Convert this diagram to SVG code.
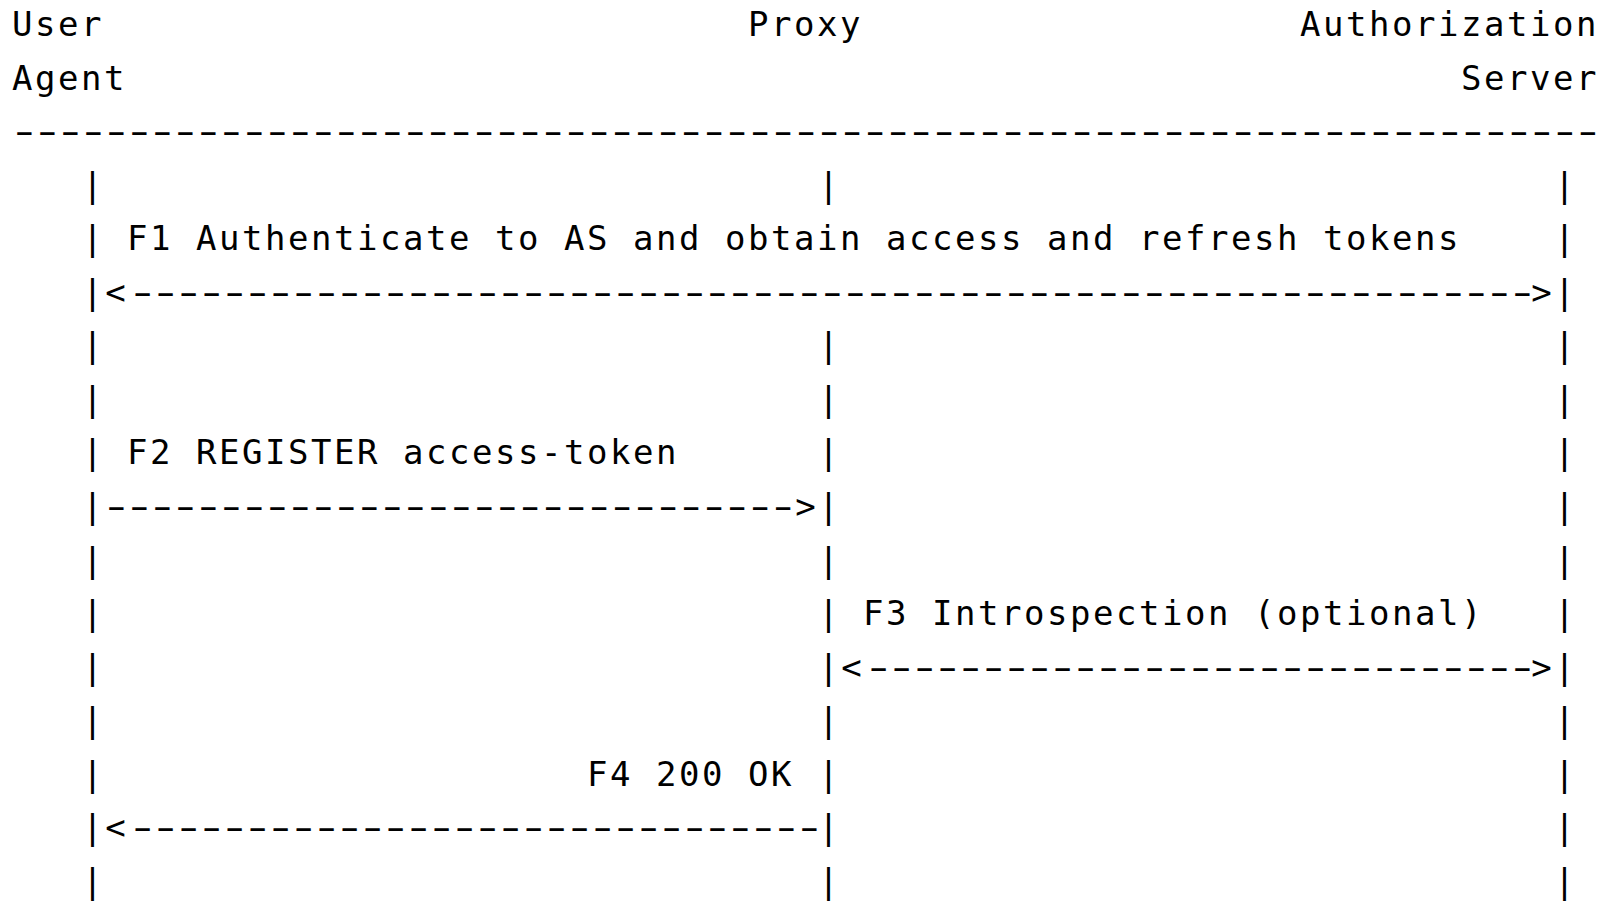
<svg xmlns="http://www.w3.org/2000/svg" width="1615" height="904" viewBox="0 0 1615 904">
<style>
text{font-family:"DejaVu Sans Mono","Liberation Mono",monospace;font-size:34px;letter-spacing:2.53px;fill:#000;white-space:pre}
text.d{letter-spacing:-6.53px}
text.p{letter-spacing:0;text-anchor:middle}
</style>
<rect width="1615" height="904" fill="#fff"/>
<g id="user-agent">
<text x="12" y="36">User</text>
<text x="12" y="90">Agent</text>
</g>
<g id="proxy">
<text x="748" y="36">Proxy</text>
</g>
<g id="authorization-server">
<text x="1300" y="36">Authorization</text>
<text x="1461" y="90">Server</text>
</g>
<g id="separator">
<text class="d" transform="translate(7.5,143) scale(1.65,1)">---------------------------------------------------------------------</text>
</g>
<g id="lifelines">
<g id="lifeline-user-agent">
<text class="p" x="92.5" y="197">|</text><text class="p" x="92.5" y="250">|</text><text class="p" x="92.5" y="304">|</text><text class="p" x="92.5" y="357">|</text><text class="p" x="92.5" y="411">|</text><text class="p" x="92.5" y="464">|</text><text class="p" x="92.5" y="518">|</text><text class="p" x="92.5" y="572">|</text><text class="p" x="92.5" y="625">|</text><text class="p" x="92.5" y="679">|</text><text class="p" x="92.5" y="732">|</text><text class="p" x="92.5" y="786">|</text><text class="p" x="92.5" y="839">|</text><text class="p" x="92.5" y="893">|</text>
</g>
<g id="lifeline-proxy">
<text class="p" x="828.5" y="197">|</text><text class="p" x="828.5" y="357">|</text><text class="p" x="828.5" y="411">|</text><text class="p" x="828.5" y="464">|</text><text class="p" x="828.5" y="518">|</text><text class="p" x="828.5" y="572">|</text><text class="p" x="828.5" y="625">|</text><text class="p" x="828.5" y="679">|</text><text class="p" x="828.5" y="732">|</text><text class="p" x="828.5" y="786">|</text><text class="p" x="828.5" y="839">|</text><text class="p" x="828.5" y="893">|</text>
</g>
<g id="lifeline-authorization-server">
<text class="p" x="1564.5" y="197">|</text><text class="p" x="1564.5" y="250">|</text><text class="p" x="1564.5" y="304">|</text><text class="p" x="1564.5" y="357">|</text><text class="p" x="1564.5" y="411">|</text><text class="p" x="1564.5" y="464">|</text><text class="p" x="1564.5" y="518">|</text><text class="p" x="1564.5" y="572">|</text><text class="p" x="1564.5" y="625">|</text><text class="p" x="1564.5" y="679">|</text><text class="p" x="1564.5" y="732">|</text><text class="p" x="1564.5" y="786">|</text><text class="p" x="1564.5" y="839">|</text><text class="p" x="1564.5" y="893">|</text>
</g>
</g>
<g id="connectors">
<g id="f1">
<text x="127" y="250">F1 Authenticate to AS and obtain access and refresh tokens</text>
<text class="p" x="115.5" y="304">&lt;</text>
<text class="d" transform="translate(125.8,304) scale(1.65,1)">-------------------------------------------------------------</text>
<text class="p" x="1541.5" y="304">&gt;</text>
</g>
<g id="f2">
<text x="127" y="464">F2 REGISTER access-token</text>
<text class="d" transform="translate(99.5,518) scale(1.65,1)">------------------------------</text>
<text class="p" x="805.5" y="518">&gt;</text>
</g>
<g id="f3">
<text x="863" y="625">F3 Introspection (optional)</text>
<text class="p" x="851.5" y="679">&lt;</text>
<text class="d" transform="translate(861.8,679) scale(1.65,1)">-----------------------------</text>
<text class="p" x="1541.5" y="679">&gt;</text>
</g>
<g id="f4">
<text x="587" y="786">F4 200 OK</text>
<text class="p" x="115.5" y="839">&lt;</text>
<text class="d" transform="translate(125.8,839) scale(1.65,1)">------------------------------</text>
</g>
</g>
</svg>
